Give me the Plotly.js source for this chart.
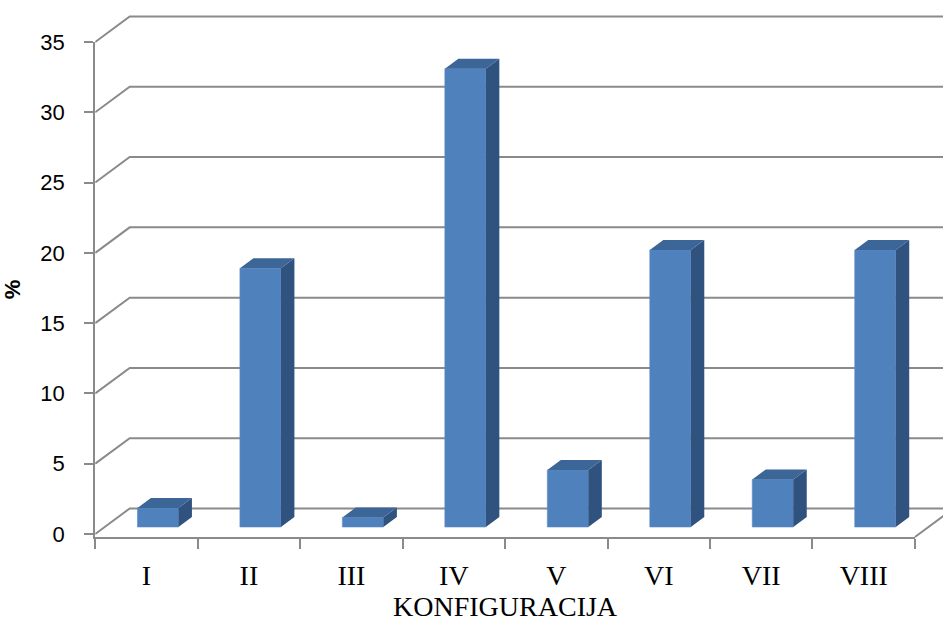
<!DOCTYPE html>
<html>
<head>
<meta charset="utf-8">
<script src="https://cdn.plot.ly/plotly-3.0.1.min.js"></script>
<style>html,body{margin:0;padding:0;background:#fff;}#chart{width:943px;height:623px;}</style>
</head>
<body>
<div id="chart"></div>
<script>
// ---- data ----
const categories = ['I', 'II', 'III', 'IV', 'V', 'VI', 'VII', 'VIII'];
const percentages = [1.35, 18.4, 0.68, 32.6, 4.05, 19.7, 3.38, 19.7];
const yTickValues = [0, 5, 10, 15, 20, 25, 30, 35];
const xTitle = 'KONFIGURACIJA';
const yTitle = '%';

// ---- layout geometry (pixels of the 943x623 page) ----
const W = 943, H = 623;
const FX0 = 95.2, CW = 102.47;      // front plane: left boundary, category width
const FY0 = 534;                    // front plane: value 0 pixel
const FLOOR_Y = 537, TOP_Y = 42;    // front axis extent
const Y_MAX = 35;
const PU = (FY0 - TOP_Y) / Y_MAX;   // px per unit
const WALL = {dx: 34.5, dy: 25.5};  // depth of the chart box
const BAR_OFF = {dx: 11.5, dy: 7};  // bar front plane position inside box
const BAR_D = {dx: 13.5, dy: 10};   // bar depth
const BAR_W = 0.4;
const GRID = '#8a8a8a';
const FRONT = '#4f81bd', TOPC = '#3c6598', SIDE = '#30527e';

const n = categories.length;
const dk = WALL.dx / CW, dv = WALL.dy / PU;
const ok = BAR_OFF.dx / CW, ov = BAR_OFF.dy / PU;
const bk = BAR_D.dx / CW, bv = BAR_D.dy / PU;

// back-wall subplot (xy), same scale as the front subplot
const xA = [0, (W - FX0) / CW];
const yA = [(FY0 - 552) / PU, (FY0 - 6) / PU];
const floorV = (FY0 - FLOOR_Y) / PU;

const traces = [];
// wall grid lines: side diagonal + back wall horizontal
const gx = [], gy = [];
yTickValues.forEach(v => {
  gx.push(0, dk, xA[1] + 1, null);
  gy.push(v, v + dv, v + dv, null);
});
// right floor edge
gx.push(n, n + dk * 2, null);
gy.push(floorV, floorV + dv * 2, null);
traces.push({type: 'scatter', mode: 'lines', x: gx, y: gy, xaxis: 'x', yaxis: 'y',
  line: {color: GRID, width: 2}, hoverinfo: 'skip', connectgaps: false});

// bars: front faces
const centers = categories.map((c, i) => i + 0.5 + ok);
traces.push({type: 'bar', x: centers, y: percentages, base: categories.map(() => ov),
  width: BAR_W, xaxis: 'x2', yaxis: 'y2',
  marker: {color: FRONT, line: {color: '#5b8cc8', width: 0.6}}, hoverinfo: 'y'});

// side and top faces
const sx = [], sy = [], tx = [], ty = [];
percentages.forEach((v, i) => {
  const xl = centers[i] - BAR_W / 2, xr = centers[i] + BAR_W / 2;
  const top = ov + v;
  sx.push(xr, xr + bk, xr + bk, xr, xr, null);
  sy.push(ov, ov + bv, top + bv, top, ov, null);
  tx.push(xl, xl + bk, xr + bk, xr, xl, null);
  ty.push(top, top + bv, top + bv, top, top, null);
});
traces.push({type: 'scatter', mode: 'lines', x: sx, y: sy, xaxis: 'x2', yaxis: 'y2',
  fill: 'toself', fillcolor: SIDE, line: {width: 0, color: SIDE}, hoverinfo: 'skip'});
traces.push({type: 'scatter', mode: 'lines', x: tx, y: ty, xaxis: 'x2', yaxis: 'y2',
  fill: 'toself', fillcolor: TOPC, line: {width: 0, color: TOPC}, hoverinfo: 'skip'});

const boundaries = categories.map((c, i) => i).concat([n]);
const labelPos = categories.map((c, i) => i + 0.5);

const layout = {
  width: W, height: H,
  margin: {l: 0, r: 0, t: 0, b: 0},
  paper_bgcolor: '#ffffff', plot_bgcolor: 'rgba(0,0,0,0)',
  showlegend: false,
  xaxis: {domain: [FX0 / W, 1], range: xA, visible: false, fixedrange: true},
  yaxis: {domain: [1 - 552 / H, 1 - 6 / H], range: yA, visible: false, fixedrange: true},
  xaxis2: {domain: [FX0 / W, (FX0 + n * CW) / W], range: [0, n], anchor: 'y2',
    showgrid: false, zeroline: false, showline: true, linecolor: GRID, linewidth: 2,
    tickmode: 'array', tickvals: labelPos, ticktext: categories, ticks: '',
    ticklabelstandoff: 12,
    tickfont: {family: 'Liberation Serif', size: 28, color: '#000'},
    minor: {tickmode: 'array', tickvals: boundaries, ticks: 'outside', ticklen: 10,
      tickwidth: 2, tickcolor: GRID, showgrid: false},
    title: {text: xTitle, font: {family: 'Liberation Serif', size: 28, color: '#000'}, standoff: 0},
    fixedrange: true},
  yaxis2: {domain: [1 - FLOOR_Y / H, 1 - TOP_Y / H], range: [floorV, Y_MAX + 0.001],
    anchor: 'x2', showgrid: false, zeroline: false, showline: true, linecolor: GRID, linewidth: 2,
    tickmode: 'array', tickvals: yTickValues, ticks: 'outside', ticklen: 9, tickwidth: 2,
    tickcolor: GRID, ticklabelstandoff: 15,
    tickfont: {family: 'Liberation Sans', size: 22, color: '#000'},
    title: {text: yTitle, font: {family: 'Liberation Sans', size: 22, color: '#000', weight: 'bold'}, standoff: 22},
    fixedrange: true}
};

Plotly.newPlot('chart', traces, layout, {displayModeBar: false, staticPlot: true});
</script>
</body>
</html>
